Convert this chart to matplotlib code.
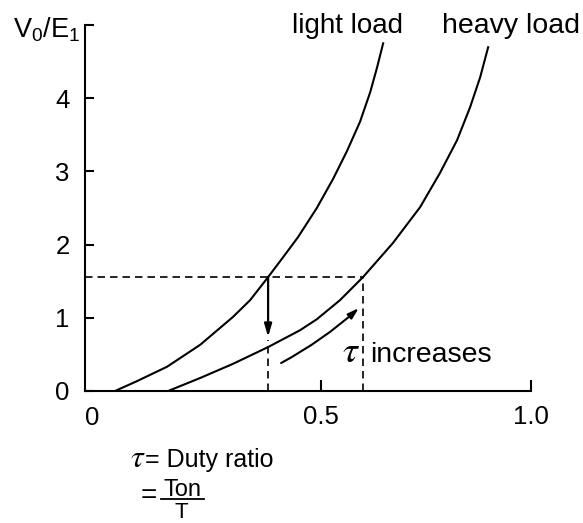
import numpy as np
import matplotlib.pyplot as plt
import matplotlib as mpl

mpl.rcParams['font.family'] = ['Liberation Sans', 'DejaVu Sans']
mpl.rcParams['mathtext.fontset'] = 'custom'
mpl.rcParams['mathtext.rm'] = 'Liberation Sans'
mpl.rcParams['mathtext.it'] = 'Liberation Sans:italic'

# curves (duty ratio, V0/E1)
light_x = [0.0095, 0.06, 0.133, 0.212, 0.290, 0.331, 0.374, 0.410, 0.445, 0.490,
           0.529, 0.562, 0.593, 0.617, 0.633, 0.648]
light_y = [0.0, 0.13, 0.33, 0.63, 1.01, 1.24, 1.556, 1.83, 2.10, 2.50,
           2.90, 3.28, 3.68, 4.08, 4.41, 4.75]
heavy_x = [0.136, 0.212, 0.290, 0.374, 0.450, 0.490, 0.545, 0.600, 0.671, 0.736,
           0.783, 0.824, 0.855, 0.879, 0.898]
heavy_y = [0.0, 0.177, 0.37, 0.60, 0.83, 0.98, 1.24, 1.556, 2.02, 2.512,
           2.976, 3.427, 3.877, 4.287, 4.696]

# operating point
v_level = 1.556
tau_light = 0.374
tau_heavy = 0.600
v_drop = 0.74

yticks = [0, 1, 2, 3, 4, 5]
ytick_labels = ['0', '1', '2', '3', '4', '']
xticks = [0.5, 1.0]
xtick_labels = ['0.5', '1.0']

fig = plt.figure(figsize=(5.83, 5.23), dpi=100)
ax = fig.add_axes([0.1458, 0.2524, 0.765, 0.6998])

ax.plot(light_x, light_y, color='black', lw=1.5, solid_joinstyle='round')
ax.plot(heavy_x, heavy_y, color='black', lw=1.5, solid_joinstyle='round')

# dashed guides
ax.plot([-0.062, tau_heavy], [v_level, v_level], color='black', lw=1.2, dashes=(4.5, 3))
ax.plot([tau_heavy, tau_heavy], [0, v_level], color='black', lw=1.2, dashes=(4.5, 3))
ax.plot([tau_light, tau_light], [0, v_drop - 0.05], color='black', lw=1.2, dashes=(4.5, 3))

# drop arrow
ax.annotate('', xy=(tau_light, v_drop), xytext=(tau_light, v_level),
            arrowprops=dict(arrowstyle='-|>,head_length=0.75,head_width=0.22',
                            color='black', lw=1.6, shrinkA=0, shrinkB=0))
# tau increases arrow
ax.annotate('', xy=(0.590, 1.133), xytext=(0.405, 0.382),
            arrowprops=dict(arrowstyle='-|>,head_length=0.65,head_width=0.2',
                            color='black', lw=1.5, shrinkA=0, shrinkB=0,
                            connectionstyle='arc3,rad=0.06'))

ax.set_xlim(-0.062, 1.0)
ax.set_ylim(0, 5.0)
ax.spines['top'].set_visible(False)
ax.spines['right'].set_visible(False)
for s in ['left', 'bottom']:
    ax.spines[s].set_linewidth(1.5)
ax.set_xticks(xticks)
ax.set_xticklabels(xtick_labels)
ax.set_yticks(yticks)
ax.set_yticklabels(ytick_labels)
ax.tick_params(axis='x', direction='in', length=8, width=1.5, pad=10, labelsize=18.5)
ax.tick_params(axis='y', direction='in', length=6.5, width=1.5, pad=11, labelsize=18.5)
ax.text(-0.045, -0.2, '0', ha='center', va='top', fontsize=18.5)

ax.text(-0.074, 4.93, r'V$\mathregular{_0}$/E$\mathregular{_1}$', ha='right', va='center',
        fontsize=19.5, clip_on=False)
ax.text(0.695, 4.887, 'light load', ha='right', va='baseline', fontsize=20, clip_on=False)
ax.text(1.117, 4.887, 'heavy load', ha='right', va='baseline', fontsize=20.5, clip_on=False)

ax.text(0.55, 0.396, r'$\tau$', math_fontfamily='stix', ha='left', va='baseline', fontsize=27)
ax.text(0.617, 0.396, 'increases', ha='left', va='baseline', fontsize=20.5)

# duty ratio note under the axis
ax.text(0.045, -1.04, r'$\tau$', math_fontfamily='stix', ha='left', va='baseline',
        fontsize=23, clip_on=False)
ax.text(0.080, -1.04, '= Duty ratio', ha='left', va='baseline', fontsize=18, clip_on=False)
ax.text(0.071, -1.53, '=', ha='left', va='baseline', fontsize=20, clip_on=False)
ax.text(0.170, -1.433, 'Ton', ha='center', va='baseline', fontsize=17, clip_on=False)
ax.plot([0.118, 0.222], [-1.474, -1.474], color='black', lw=1.3, clip_on=False)
ax.text(0.168, -1.52, 'T', ha='center', va='top', fontsize=16, clip_on=False)

fig.savefig('out.png', dpi=100)
